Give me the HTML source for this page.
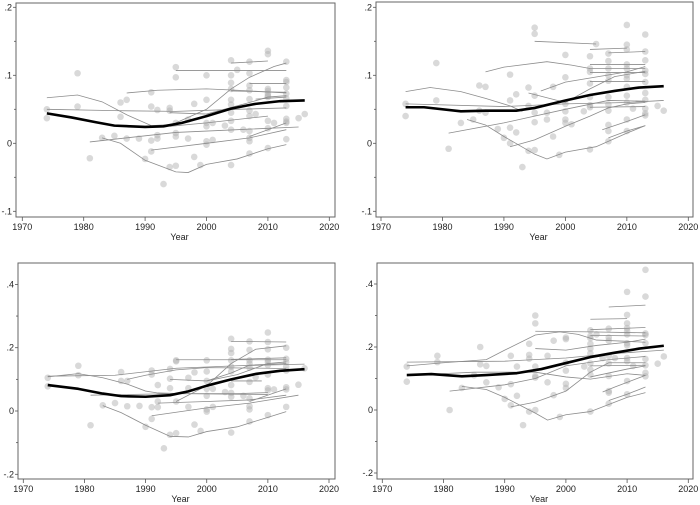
<!DOCTYPE html>
<html><head><meta charset="utf-8"><style>
html,body{margin:0;padding:0;background:#fff;}
svg{display:block;font-family:"Liberation Sans",Arial,sans-serif;}
</style></head><body>
<svg id="chart" width="700" height="505" viewBox="0 0 700 505"></svg>
<script>
// ---- data: panel 1 (top-left) ----
const p1Trend=[[1974,.044],[1978,.038],[1982,.031],[1985,.026],[1990,.024],[1993,.025],[1996,.030],[2000,.040],[2004,.051],[2008,.058],[2012,.062],[2016,.063]];
const p1Lines=[
[[1974,.067],[1979,.071],[1983,.061],[1987,.042],[1991,.026],[1995,.028]],
[[1974,.050],[1985,.048],[1995,.047],[2005,.050],[2013,.052]],
[[1987,.074],[1992,.078],[2000,.080],[2005,.078],[2013,.074]],
[[1995,.107],[2013,.107]],
[[2004,.118],[2010,.121]],
[[1995,.030],[2000,.050],[2004,.080],[2007,.097],[2011,.113],[2013,.118]],
[[1983,.008],[1986,.000],[1990,-.025],[1995,-.042],[1997,-.043],[2000,-.031],[2005,-.023],[2010,-.008],[2013,-.002]],
[[1981,.002],[1995,.016],[2005,.020],[2015,.024]],
[[1991,-.010],[2000,.000],[2007,.008],[2013,.020]],
[[1994,.045],[2000,.043],[2007,.060],[2010,.068],[2013,.070]],
[[2008,.065],[2013,.068]],[[2004,.077],[2013,.075]],[[2007,.088],[2013,.088]],
[[1994,.025],[2000,.030],[2010,.040]],
[[2007,.010],[2010,.020],[2013,.030]]];
const p1Dots=[[1974,.050],[1974,.037],[1979,.103],[1979,.054],[1981,-.022],[1983,.008],[1985,.011],[1986,.060],[1986,.039],[1987,.064],[1987,.007],[1989,.007],[1990,-.023],[1991,.075],[1991,.054],[1991,.004],[1991,-.012],[1992,.049],[1992,.012],[1992,.007],[1993,-.060],[1994,.052],[1994,.048],[1994,-.035],[1995,.112],[1995,.097],[1995,.030],[1995,.015],[1995,.010],[1995,-.033],[1997,.035],[1997,.007],[1998,.058],[1998,-.020],[1999,-.032],[2000,.100],[2000,.064],[2000,.030],[2000,.025],[2000,.003],[2000,-.002],[2001,.030],[2001,.005],[2003,.026],[2004,.122],[2004,.100],[2004,.089],[2004,.080],[2004,.064],[2004,.057],[2004,.045],[2004,.033],[2004,.020],[2004,-.032],[2005,.108],[2006,.020],[2007,.120],[2007,.103],[2007,.085],[2007,.078],[2007,.065],[2007,.048],[2007,.040],[2007,.018],[2007,.008],[2007,.003],[2007,-.015],[2008,.043],[2010,.136],[2010,.131],[2010,.080],[2010,.077],[2010,.073],[2010,.070],[2010,.068],[2010,.033],[2010,.022],[2010,-.007],[2011,.030],[2013,.120],[2013,.093],[2013,.090],[2013,.082],[2013,.073],[2013,.066],[2013,.055],[2013,.036],[2013,.032],[2013,.030],[2013,.006],[2015,.037],[2016,.043]];
// ---- data: panel 2 (top-right) ----
const p2Trend=[[1974,.053],[1977,.053],[1983,.047],[1987,.048],[1992,.048],[1995,.052],[2000,.063],[2004,.071],[2008,.077],[2012,.082],[2016,.084]];
const p2Lines=[
[[1974,.076],[1978,.082],[1983,.076],[1987,.066],[1991,.055],[1993,.047]],
[[1974,.058],[1990,.054],[2000,.058],[2010,.060],[2016,.063]],
[[1987,.105],[1990,.112],[1997,.120],[2001,.115],[2004,.110],[2013,.110]],
[[1995,.150],[2005,.146]],[[2004,.138],[2010,.140]],[[2007,.133],[2013,.135]],
[[2004,.116],[2013,.116]],[[2004,.104],[2013,.104]],[[2004,.091],[2013,.091]],
[[1981,.015],[1990,.030],[2000,.050],[2007,.063],[2013,.062]],
[[1984,.035],[1987,.027],[1990,.010],[1995,-.016],[1997,-.023],[2000,-.013],[2005,-.005],[2010,.015],[2013,.026]],
[[1991,-.005],[1995,.005],[2000,.025],[2004,.040],[2007,.052],[2010,.058],[2013,.060]],
[[1996,.077],[2000,.090],[2010,.105],[2013,.113]],
[[1994,.074],[2000,.060],[2004,.080],[2008,.098],[2013,.106]],
[[2006,.020],[2010,.032],[2013,.042]],
[[2007,.008],[2010,.018],[2013,.026]],
[[2004,.053],[2013,.054]]];
const p2Dots=[[1974,.058],[1974,.040],[1979,.118],[1979,.063],[1981,-.008],[1983,.030],[1985,.035],[1986,.085],[1986,.048],[1987,.083],[1987,.045],[1989,.021],[1990,.008],[1991,.101],[1991,.063],[1991,.023],[1991,.000],[1992,.072],[1992,.016],[1993,-.035],[1994,.082],[1994,.055],[1994,-.011],[1995,.170],[1995,.161],[1995,.070],[1995,.045],[1995,.031],[1995,-.010],[1997,.045],[1997,.035],[1998,.083],[1998,.010],[1999,-.017],[2000,.130],[2000,.097],[2000,.058],[2000,.047],[2000,.035],[2000,.030],[2001,.028],[2003,.047],[2004,.128],[2004,.110],[2004,.105],[2004,.088],[2004,.068],[2004,.056],[2004,.053],[2004,-.009],[2005,.146],[2007,.132],[2007,.121],[2007,.110],[2007,.100],[2007,.092],[2007,.068],[2007,.057],[2007,.048],[2007,.027],[2007,.018],[2007,.003],[2010,.174],[2010,.145],[2010,.138],[2010,.116],[2010,.110],[2010,.100],[2010,.095],[2010,.083],[2010,.070],[2010,.060],[2010,.035],[2010,.018],[2011,.051],[2013,.160],[2013,.135],[2013,.122],[2013,.107],[2013,.102],[2013,.090],[2013,.074],[2013,.064],[2013,.051],[2013,.044],[2013,.041],[2015,.055],[2016,.048]];
// ---- data: panel 3 (bottom-left) ----
const p3Trend=[[1974,.082],[1979,.070],[1983,.055],[1986,.047],[1990,.045],[1994,.050],[1997,.062],[2000,.080],[2004,.100],[2008,.117],[2012,.127],[2016,.132]];
const p3Lines=[
[[1974,.108],[1979,.118],[1983,.105],[1987,.085],[1990,.063],[1992,.057],[1996,.055],[2005,.055],[2010,.058]],
[[1974,.110],[1985,.113],[1995,.135],[2005,.143],[2016,.148]],
[[1987,.100],[1990,.113],[1995,.130],[2000,.137],[2010,.135],[2013,.134]],
[[1995,.162],[2013,.162]],[[2004,.220],[2013,.218]],[[2004,.163],[2013,.168]],
[[1995,.030],[2000,.080],[2004,.150],[2008,.195],[2013,.206]],
[[1983,.017],[1986,-.005],[1990,-.045],[1994,-.080],[1997,-.082],[2000,-.065],[2005,-.050],[2010,-.020],[2013,-.002]],
[[1981,.050],[1995,.055],[2005,.053],[2010,.052]],
[[1991,-.015],[2000,.010],[2007,.025],[2015,.050]],
[[1992,.025],[2000,.030],[2007,.035],[2013,.050]],
[[1994,.100],[2000,.095],[2005,.115],[2010,.150],[2013,.155]],
[[2004,.095],[2009,.095]],
[[2007,.030],[2010,.050],[2013,.070]],
[[2000,.095],[2004,.120],[2007,.145],[2013,.150]]];
const p3Dots=[[1974,.105],[1974,.078],[1979,.143],[1979,.113],[1981,-.045],[1983,.018],[1985,.025],[1986,.123],[1986,.095],[1987,.095],[1987,.015],[1989,.016],[1990,-.050],[1991,.128],[1991,.115],[1991,.012],[1991,-.025],[1992,.082],[1992,.030],[1992,.012],[1993,-.118],[1994,.133],[1994,.102],[1994,.072],[1994,-.075],[1995,.160],[1995,.157],[1995,.030],[1995,-.070],[1997,.105],[1997,.072],[1997,.013],[1998,.122],[1998,-.043],[1999,-.063],[2000,.160],[2000,.125],[2000,.095],[2000,.070],[2000,.048],[2000,.005],[2000,-.002],[2001,.070],[2001,.013],[2003,.060],[2004,.228],[2004,.196],[2004,.183],[2004,.160],[2004,.140],[2004,.125],[2004,.082],[2004,.057],[2004,.045],[2004,-.068],[2006,.048],[2007,.220],[2007,.193],[2007,.160],[2007,.150],[2007,.137],[2007,.092],[2007,.040],[2007,.015],[2007,.005],[2007,-.033],[2008,.107],[2010,.248],[2010,.218],[2010,.195],[2010,.162],[2010,.155],[2010,.145],[2010,.115],[2010,.072],[2010,.065],[2010,-.013],[2011,.068],[2013,.200],[2013,.165],[2013,.155],[2013,.140],[2013,.128],[2013,.075],[2013,.068],[2013,.013],[2015,.083],[2016,.135]];
// ---- data: panel 4 (bottom-right) ----
const p4Trend=[[1974,.111],[1978,.114],[1983,.107],[1987,.111],[1992,.117],[1996,.130],[2000,.149],[2004,.168],[2008,.182],[2012,.195],[2016,.204]];
const p4Lines=[
[[1974,.140],[1980,.150],[1987,.160],[1990,.190],[1995,.238],[1999,.248],[2002,.240],[2005,.222],[2010,.218],[2013,.215]],
[[1974,.152],[1990,.155],[2000,.165],[2007,.178],[2016,.190]],
[[1974,.110],[1985,.120],[1995,.120],[2000,.105],[2004,.098],[2010,.115],[2013,.110]],
[[1995,.250],[2004,.248],[2013,.245]],[[2004,.288],[2010,.290]],[[2007,.327],[2013,.333]],
[[2004,.255],[2013,.262]],[[2004,.237],[2013,.235]],
[[1995,.195],[2000,.190],[2005,.205],[2010,.215],[2013,.225]],
[[1981,.060],[1990,.080],[1995,.100],[2000,.140],[2007,.160],[2013,.170]],
[[1983,.075],[1987,.065],[1990,.040],[1995,-.010],[1997,-.032],[2000,-.015],[2004,-.005],[2010,.040],[2013,.055]],
[[1991,.010],[1995,.025],[2000,.060],[2004,.120],[2007,.150],[2013,.150]],
[[2004,.140],[2013,.142]],
[[2006,.057],[2008,.073],[2013,.110]],
[[2007,.030],[2010,.050],[2013,.073]],
[[2004,.105],[2010,.130],[2013,.140]]];
const p4Dots=[[1974,.138],[1974,.090],[1979,.172],[1979,.152],[1981,.000],[1983,.070],[1985,.110],[1986,.200],[1986,.145],[1987,.140],[1987,.088],[1989,.072],[1990,.035],[1991,.172],[1991,.082],[1991,.015],[1992,.138],[1992,.045],[1993,-.048],[1994,.210],[1994,.175],[1994,.163],[1994,-.005],[1995,.300],[1995,.275],[1995,.138],[1995,.108],[1995,.103],[1995,.000],[1997,.172],[1997,.088],[1998,.220],[1998,.047],[1999,-.022],[2000,.230],[2000,.225],[2000,.150],[2000,.125],[2000,.083],[2000,.070],[2003,.138],[2004,.253],[2004,.235],[2004,.228],[2004,.210],[2004,.195],[2004,.180],[2004,.148],[2004,.128],[2004,.112],[2004,-.005],[2005,.240],[2006,.165],[2007,.258],[2007,.230],[2007,.220],[2007,.172],[2007,.148],[2007,.108],[2007,.060],[2007,.055],[2007,.020],[2008,.165],[2010,.375],[2010,.302],[2010,.275],[2010,.260],[2010,.250],[2010,.240],[2010,.212],[2010,.205],[2010,.165],[2010,.155],[2010,.092],[2010,.050],[2011,.140],[2013,.445],[2013,.360],[2013,.243],[2013,.238],[2013,.212],[2013,.162],[2013,.142],[2013,.118],[2013,.107],[2015,.147],[2016,.170]];
// ---- ticks ----
const xTicks=[1970,1980,1990,2000,2010,2020];
const yTicksTop=[-.1,0,.1,.2];
const yLabelsTop=["-.1","0",".1",".2"];
const yMinorTop=[-.05,.05,.15];
const yTicksBot=[-.2,0,.2,.4];
const yLabelsBot=["-.2","0",".2",".4"];
const yMinorBot=[-.1,.1,.3];

const NS="http://www.w3.org/2000/svg";
const svg=document.getElementById('chart');
function mk(tag,attrs,parent){const e=document.createElementNS(NS,tag);for(const k in attrs)e.setAttribute(k,attrs[k]);parent.appendChild(e);return e;}

const panels=[
 {id:'top-left',bx0:16,by0:3,bx1:335,by1:217,xa:22.3,xb:329.3,y0:143.3,ys:680,trend:p1Trend,lines:p1Lines,dots:p1Dots,yt:yTicksTop,yl:yLabelsTop,ym:yMinorTop},
 {id:'top-right',bx0:376,by0:2,bx1:693,by1:217,xa:381,xb:688.3,y0:143.3,ys:680,trend:p2Trend,lines:p2Lines,dots:p2Dots,yt:yTicksTop,yl:yLabelsTop,ym:yMinorTop},
 {id:'bottom-left',bx0:18,by0:263,bx1:335,by1:479,xa:23.3,xb:329,y0:411,ys:316.5,trend:p3Trend,lines:p3Lines,dots:p3Dots,yt:yTicksBot,yl:yLabelsBot,ym:yMinorBot},
 {id:'bottom-right',bx0:377,by0:263,bx1:693,by1:479,xa:382.3,xb:688.3,y0:410,ys:315,trend:p4Trend,lines:p4Lines,dots:p4Dots,yt:yTicksBot,yl:yLabelsBot,ym:yMinorBot}
];

panels.forEach(p=>{
 const g=mk('g',{},svg);
 
 
 const X=y=>p.xa+(y-1970)*(p.xb-p.xa)/50;
 const Y=v=>p.y0-v*p.ys;
 const box=mk('rect',{x:p.bx0,y:p.by0,width:p.bx1-p.bx0,height:p.by1-p.by0,fill:'none',stroke:'#666','stroke-width':1},g);
 
 
 // dots
 const dg=mk('g',{},g);
 
 
 p.dots.forEach(d=>{
  const c=mk('circle',{cx:X(d[0]),cy:Y(d[1]),r:3.3,fill:'#b4b4b4','fill-opacity':0.5},dg);
  
  
 });
 // thin lines
 p.lines.forEach(l=>{
  const pl=mk('polyline',{points:l.map(q=>X(q[0])+','+Y(q[1])).join(' '),fill:'none',stroke:'#8c8c8c','stroke-width':0.8},g);
  
  
 });
 // trend
 const tr=mk('polyline',{points:p.trend.map(q=>X(q[0])+','+Y(q[1])).join(' '),fill:'none',stroke:'#000','stroke-width':2.6,'stroke-linejoin':'round'},g);
 
 
 // x ticks
 xTicks.forEach(t=>{
  mk('line',{x1:X(t),x2:X(t),y1:p.by1,y2:p.by1+4,stroke:'#555','stroke-width':0.8},g);
  const tx=mk('text',{x:X(t),y:p.by1+13,'font-size':9,'text-anchor':'middle',fill:'#222'},g);
  tx.textContent=t;
  
  
 });
 const xt=mk('text',{x:(p.bx0+p.bx1)/2+4,y:p.by1+23,'font-size':9,'text-anchor':'middle',fill:'#222'},g);
 xt.textContent='Year';
 
 
 // y ticks
 p.yt.forEach((t,i)=>{
  mk('line',{x1:p.bx0-3,x2:p.bx0,y1:Y(t),y2:Y(t),stroke:'#555','stroke-width':0.8},g);
  const ty=mk('text',{x:p.bx0-4,y:Y(t)+3,'font-size':9,'text-anchor':'end',fill:'#222'},g);
  ty.textContent=p.yl[i];
  
  
 });
 p.ym.forEach(t=>{
  mk('line',{x1:p.bx0-2,x2:p.bx0,y1:Y(t),y2:Y(t),stroke:'#555','stroke-width':0.8},g);
 });
});
</script>
</body></html>
